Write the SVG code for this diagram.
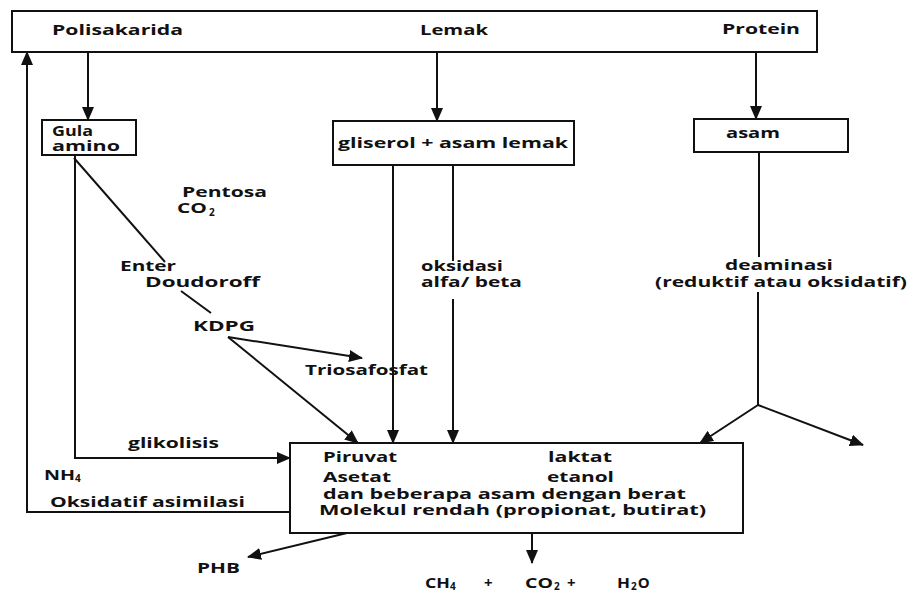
<svg xmlns="http://www.w3.org/2000/svg" width="915" height="602" viewBox="0 0 915 602">
<style>
.t{font-family:"Open Sans","DejaVu Sans",sans-serif;font-weight:700;font-size:15px;fill:#111}
.s{font-size:10px}
.box{fill:#fff;stroke:#111;stroke-width:2}
.ln{fill:none;stroke:#111;stroke-width:2}
.ar{fill:none;stroke:#111;stroke-width:2;marker-end:url(#ah)}
</style>
<defs>
<marker id="ah" markerUnits="userSpaceOnUse" markerWidth="14" markerHeight="12" viewBox="0 0 14 12" refX="13" refY="6" orient="auto">
<path d="M0,0 L14,6 L0,12 z" fill="#111"/>
</marker>
</defs>
<rect width="915" height="602" fill="#fff"/>

<g id="connectors">
<line class="ar" x1="88" y1="52" x2="88" y2="120"/>
<line class="ar" x1="437" y1="52" x2="437" y2="121"/>
<line class="ar" x1="756" y1="52" x2="756" y2="119"/>
<polyline class="ar" points="290,512 27,512 27,52"/>
<polyline class="ar" points="75,155 75,458 290,458"/>
<line class="ln" x1="74" y1="158" x2="165" y2="262"/>
<line class="ln" x1="181" y1="291" x2="211" y2="313"/>
<line class="ar" x1="228" y1="337" x2="362" y2="358"/>
<line class="ar" x1="228" y1="337" x2="358" y2="443"/>
<line class="ar" x1="393" y1="165" x2="393" y2="443"/>
<line class="ln" x1="453" y1="165" x2="453" y2="261"/>
<line class="ar" x1="453" y1="299" x2="453" y2="443"/>
<line class="ln" x1="759" y1="152" x2="759" y2="257"/>
<line class="ln" x1="758" y1="292" x2="758" y2="405"/>
<line class="ar" x1="758" y1="405" x2="700" y2="443"/>
<line class="ar" x1="758" y1="405" x2="863" y2="445"/>
<line class="ar" x1="347" y1="533" x2="248" y2="557"/>
<line class="ar" x1="532" y1="533" x2="532" y2="563"/>
</g>

<g id="sources">
<rect class="box" x="12" y="11" width="805" height="41"/>
<text class="t" x="52" y="35" textLength="131" lengthAdjust="spacingAndGlyphs">Polisakarida</text>
<text class="t" x="420" y="35" textLength="68" lengthAdjust="spacingAndGlyphs">Lemak</text>
<text class="t" x="722" y="34" textLength="78" lengthAdjust="spacingAndGlyphs">Protein</text>
</g>

<g id="gula-amino">
<rect class="box" x="42" y="120" width="94" height="35"/>
<text class="t" x="52" y="136" textLength="41" lengthAdjust="spacingAndGlyphs">Gula</text>
<text class="t" x="52" y="151" textLength="68" lengthAdjust="spacingAndGlyphs">amino</text>
</g>

<g id="gliserol">
<rect class="box" x="333" y="121" width="241" height="44"/>
<text class="t" x="338" y="148" textLength="230" lengthAdjust="spacingAndGlyphs">gliserol + asam lemak</text>
</g>

<g id="asam">
<rect class="box" x="694" y="119" width="154" height="33"/>
<text class="t" x="726" y="138" textLength="54" lengthAdjust="spacingAndGlyphs">asam</text>
</g>

<g id="labels">
<text class="t" x="182" y="197" textLength="85" lengthAdjust="spacingAndGlyphs">Pentosa</text>
<text class="t" x="177" y="213"><tspan textLength="30" lengthAdjust="spacingAndGlyphs">CO</tspan><tspan class="s" dx="2" dy="3">2</tspan></text>
<text class="t" x="120" y="271" textLength="56" lengthAdjust="spacingAndGlyphs">Enter</text>
<text class="t" x="145" y="287" textLength="115" lengthAdjust="spacingAndGlyphs">Doudoroff</text>
<text class="t" x="193" y="331" textLength="62" lengthAdjust="spacingAndGlyphs">KDPG</text>
<text class="t" x="305" y="375" textLength="123" lengthAdjust="spacingAndGlyphs">Triosafosfat</text>
<text class="t" x="421" y="271" textLength="82" lengthAdjust="spacingAndGlyphs">oksidasi</text>
<text class="t" x="421" y="287" textLength="101" lengthAdjust="spacingAndGlyphs">alfa/ beta</text>
<text class="t" x="725" y="270" textLength="108" lengthAdjust="spacingAndGlyphs">deaminasi</text>
<text class="t" x="655" y="287" textLength="252" lengthAdjust="spacingAndGlyphs">(reduktif atau oksidatif)</text>
<text class="t" x="128" y="448" textLength="91" lengthAdjust="spacingAndGlyphs">glikolisis</text>
<text class="t" x="44" y="480"><tspan textLength="31" lengthAdjust="spacingAndGlyphs">NH</tspan><tspan class="s" dy="2">4</tspan></text>
<text class="t" x="50" y="507" textLength="195" lengthAdjust="spacingAndGlyphs">Oksidatif asimilasi</text>
</g>

<g id="produk">
<rect class="box" x="290" y="443" width="453" height="90"/>
<text class="t" x="323" y="462" textLength="74" lengthAdjust="spacingAndGlyphs">Piruvat</text>
<text class="t" x="548" y="462" textLength="64" lengthAdjust="spacingAndGlyphs">laktat</text>
<text class="t" x="323" y="482" textLength="68" lengthAdjust="spacingAndGlyphs">Asetat</text>
<text class="t" x="547" y="482" textLength="67" lengthAdjust="spacingAndGlyphs">etanol</text>
<text class="t" x="323" y="499" textLength="363" lengthAdjust="spacingAndGlyphs">dan beberapa asam dengan berat</text>
<text class="t" x="319" y="515" textLength="387" lengthAdjust="spacingAndGlyphs">Molekul rendah (propionat, butirat)</text>
</g>

<g id="phb">
<text class="t" x="197" y="573" textLength="43" lengthAdjust="spacingAndGlyphs">PHB</text>
</g>

<g id="akhir">
<text class="t" x="425" y="588"><tspan textLength="25" lengthAdjust="spacingAndGlyphs">CH</tspan><tspan class="s" dy="2">4</tspan></text>
<text class="t" x="484" y="588">+</text>
<text class="t" x="525" y="588"><tspan textLength="28" lengthAdjust="spacingAndGlyphs">CO</tspan><tspan class="s" dx="1" dy="2">2</tspan></text>
<text class="t" x="567" y="588">+</text>
<text class="t" x="617" y="588"><tspan textLength="13" lengthAdjust="spacingAndGlyphs">H</tspan><tspan class="s" dx="1" dy="2">2</tspan><tspan dx="1" dy="-2">O</tspan></text>
</g>
</svg>
